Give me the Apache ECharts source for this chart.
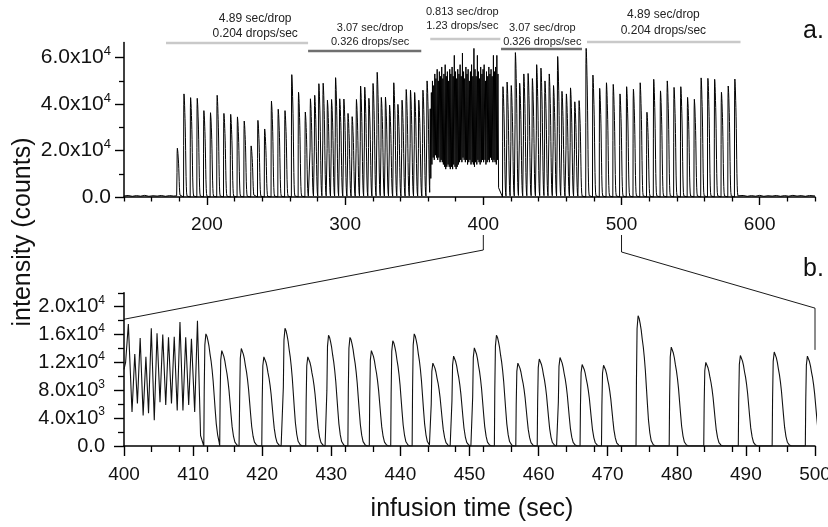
<!DOCTYPE html>
<html><head><meta charset="utf-8">
<script src="https://cdn.jsdelivr.net/npm/echarts@6/dist/echarts.min.js"></script>
<style>html,body{margin:0;padding:0;background:#fff}#c{width:828px;height:527px}</style>
</head><body><div id="c"></div>
<script>
// ---------------- data ----------------
// Panel a: isolated drops (4.89 and 3.07 sec/drop regimes): peak time (s), peak height (x1000 counts)
const topDropTimes = [178.6,183.4,188.2,193.0,197.8,202.6,207.4,212.3,217.2,222.1,227.0,232.0,236.9,241.8,246.7,251.6,256.5,261.4,266.3,271.2,
  274.9,278.0,281.0,284.1,287.2,290.2,293.1,296.1,299.1,302.1,305.1,308.2,311.2,314.2,317.2,320.2,323.2,326.2,329.2,332.2,335.2,338.2,341.2,344.2,347.3,350.3,353.3,356.3,359.3,
  414.2,417.2,420.2,423.2,426.3,429.3,432.4,435.5,438.6,441.7,444.6,447.7,450.8,453.8,456.9,460.1,463.1,466.2,469.3,
  474.4,479.3,484.2,489.1,494.0,498.9,503.7,508.6,513.5,518.4,523.3,528.2,533.1,538.0,542.9,547.8,552.7,557.6,562.5,567.4,572.3,577.2,582.0];
const topDropHeightsK = [21.0,44.4,42.8,42.5,37.2,36.3,43.8,36.0,35.6,34.5,32.7,22.0,33.0,29.3,41.3,37.8,37.2,52.7,45.1,36.6,
  42.3,43.8,48.8,49.0,41.7,42.0,51.4,42.3,42.2,36.0,34.6,42.0,47.8,47.3,42.5,48.9,53.7,42.9,43.0,39.6,49.2,39.9,41.7,46.3,46.0,45.0,41.7,46.0,50.0,
  47.5,49.5,48.0,62.2,49.0,53.0,53.2,51.0,57.0,55.5,50.0,53.0,48.0,60.5,45.5,44.4,47.0,41.0,41.5,
  64.0,52.5,46.8,49.2,48.5,44.4,47.5,46.4,49.2,36.5,50.7,45.7,50.0,47.2,47.5,42.9,42.1,51.3,51.1,50.7,45.1,47.8,50.8];
// Panel a: fast regime (0.813 sec/drop): peak time, peak height, trough before each peak (x1000)
const topBurstTimes = [361.6,362.4,363.2,364.1,364.9,365.7,366.6,367.4,368.2,369.1,369.9,370.7,371.5,372.4,373.2,374.0,374.9,375.7,376.5,377.4,
  378.2,379.0,379.9,380.7,381.5,382.4,383.2,384.0,384.9,385.7,386.5,387.4,388.2,389.0,389.9,390.7,391.5,392.4,393.2,394.0,
  394.8,395.7,396.5,397.3,398.1,399.0,399.8,400.6,401.6,402.3,403.2,404.0,404.8,405.6,406.4,407.3,408.1,408.9,409.8,410.6];
const topBurstHeightsK = [38,45,50,48,53,51,55,50,54,52,56,51,53,57,52,54,50,55,53,56,
  52,61,54,51,55,53,57,52,62,54,51,56,53,55,50,54,57,52,64,55,
  52,61,54,51,56,53,55,57,50,54,52,56,53,55,52,61,54,56,61,53];
const topBurstLowsK = [0,8,14,17,16,18,17,16,17,15,16,15,14,13,12,13,14,13,12,13,
  12,14,13,12,13,14,15,16,15,17,16,15,16,14,15,16,14,15,14,13,
  15,14,16,15,14,15,16,15,16,14,15,16,15,17,16,15,16,15,14,16];
const topBurstTailK = 4;
// Panel a: baseline before and after the infusion [time, counts]
const topBaseBefore = [[140,450],[143,650],[146,300],[149,600],[152,350],[155,700],[158,300],[161,550],[164,400],[167,650],[170,300],[173,600],[176,400],[178.1,500]];
const topBaseAfter = [[585,400],[588,650],[591,300],[594,600],[597,350],[600,700],[603,300],[606,550],[609,400],[612,650],[615,300],[618,600],[621,350],[624,700],[627,400],[630,600],[633,300],[636,650],[640,450]];

// Panel b: zoom 400-500 s
const botStart = [[400,11000]];
const botBurstTimes = [400.63,401.56,402.34,403.17,403.95,404.78,405.61,406.44,407.27,408.10,408.93,409.76,410.63];
const botBurstHeightsK = [17.5,13.2,15.5,12.8,16.9,16.2,16.0,15.6,15.7,17.8,15.6,15.4,18.0];
const botBurstLowsK = [12.0,4.9,6.1,4.4,4.7,3.7,6.3,5.9,6.1,5.1,5.1,5.9,4.9];
const botBurstTailK = 1.5;
const botDropTimes = [411.85,414.15,416.98,420.24,423.3,426.6,429.6,432.7,435.8,438.9,442.0,444.7,447.7,450.7,453.9,457.0,460.1,463.1,466.3,469.4,474.4,479.2,484.2,489.2,494.1,498.9];
const botDropHeightsK = [16.1,13.7,14.0,12.8,16.9,12.8,15.9,15.6,13.7,15.1,16.1,11.9,12.9,14.1,15.9,11.9,12.5,12.7,11.7,11.6,18.7,14.2,12.0,13.0,13.5,12.9];

// Shape of one drop signal: [seconds from peak top, fraction of peak height]
const dropShape = [[-0.3,0],[-0.24,0.5],[-0.15,0.9],[0,1],[0.15,0.98],[0.3,0.94],[0.45,0.89],[0.6,0.82],[0.75,0.76],[0.9,0.68],[1.05,0.58],[1.2,0.45],[1.35,0.32],[1.5,0.2],[1.7,0.1],[1.9,0.04],[2.2,0.01],[2.5,0]];
const burstHalf = 0.4;

// Axis ticks
const topXLabels = [200,300,400,500,600];
const topXMinor = [140,160,180,220,240,260,280,320,340,360,380,420,440,460,480,520,540,560,580,620,640];
const topYLabels = [0,20000,40000,60000];
const topYMinor = [10000,30000,50000];
const botXLabels = [400,410,420,430,440,450,460,470,480,490,500];
const botYLabels = [0,4000,8000,12000,16000,20000];
const botYMinor = [2000,6000,10000,14000,18000,22000];

// Annotations (rate regimes) in panel a time units
const regimeStart = [170.4,273.2,361.6,412.8,475.0];
const regimeEnd = [273.2,355.1,412.3,471.4,586.1];
const regimeTextAt = [234.9,318.1,384.8,442.7,530.3];
const regimeText = [['4.89 sec/drop','0.204 drops/sec'],['3.07 sec/drop','0.326 drops/sec'],['0.813 sec/drop','1.23 drops/sec'],['3.07 sec/drop','0.326 drops/sec'],['4.89 sec/drop','0.204 drops/sec']];

// ---------------- build traces ----------------
function buildTrace(before, dropT, dropH, burstT, burstH, burstL, tail, after) {
  const ev = [];
  dropT.forEach((t, i) => ev.push({t: t, h: dropH[i] * 1000}));
  burstT.forEach((t, i) => ev.push({t: t, h: burstH[i] * 1000, low: burstL[i] * 1000}));
  ev.sort((a, b) => a.t - b.t);
  const pts = [];
  const push = (t, v) => { if (!pts.length || t > pts[pts.length - 1][0] + 1e-6) pts.push([t, v]); };
  before.forEach(p => push(p[0], p[1]));
  ev.forEach((e, k) => {
    const nx = ev[k + 1];
    const nextStart = nx ? (nx.low !== undefined ? nx.t - burstHalf : nx.t + dropShape[0][0]) : Infinity;
    if (e.low !== undefined) {
      push(e.t - burstHalf, e.low);
      push(e.t, e.h);
      if (!nx || nx.low === undefined) push(Math.min(e.t + 0.45, nextStart - 0.05), tail * 1000);
    } else {
      dropShape.forEach(s => { if (e.t + s[0] < nextStart) push(e.t + s[0], e.h * s[1]); });
    }
  });
  after.forEach(p => push(p[0], p[1]));
  return pts;
}
const topData = buildTrace(topBaseBefore, topDropTimes, topDropHeightsK, topBurstTimes, topBurstHeightsK, topBurstLowsK, topBurstTailK, topBaseAfter);
const botData = buildTrace(botStart, botDropTimes, botDropHeightsK, botBurstTimes, botBurstHeightsK, botBurstLowsK, botBurstTailK, []);

// ---------------- chart ----------------
const FONT = '"Liberation Sans", Arial, Helvetica, sans-serif';
function sci(v) {
  if (v === 0) return '{m|0.0}';
  const e = Math.floor(Math.log10(v) + 1e-9);
  return '{m|' + (v / Math.pow(10, e)).toFixed(1) + 'x10}{s|' + e + '}';
}
function rich(big, small) {
  return {m: {fontSize: big, lineHeight: big + 4, fontFamily: FONT, color: '#111'},
          s: {fontSize: small, lineHeight: 11, verticalAlign: 'top', fontFamily: FONT, color: '#111'}};
}
const axLine = {show: true, lineStyle: {color: '#000', width: 1.5}};
const noLine = {show: false};
function mainX(grid, min, max, labels, majorLen, margin, extra) {
  return Object.assign({type: 'value', gridIndex: grid, position: 'bottom', min: min, max: max,
    axisLine: axLine, splitLine: {show: false},
    axisTick: {show: true, customValues: labels, length: majorLen, lineStyle: {color: '#000', width: 1.4}},
    axisLabel: {customValues: labels, fontSize: 19, fontFamily: FONT, color: '#111', margin: margin}}, extra || {});
}
function minorAxis(type, grid, min, max, vals, len) {
  return {type: 'value', gridIndex: grid, position: type === 'x' ? 'bottom' : 'left', min: min, max: max,
    axisLine: noLine, splitLine: {show: false}, axisLabel: {show: false},
    axisTick: {show: true, customValues: vals, length: len, lineStyle: {color: '#000', width: 1.3}}};
}
function mainY(grid, max, labels, len, big, small, margin) {
  return {type: 'value', gridIndex: grid, position: 'left', min: 0, max: max,
    axisLine: axLine, splitLine: {show: false},
    axisTick: {show: true, customValues: labels, length: len, lineStyle: {color: '#000', width: 1.4}},
    axisLabel: {customValues: labels, formatter: sci, rich: rich(big, small), margin: margin}};
}

const chart = echarts.init(document.getElementById('c'), null, {renderer: 'canvas'});
chart.setOption({
  animation: false,
  backgroundColor: '#fff',
  grid: [
    {left: 124, right: 13, top: 42.6, height: 154.4, outerBoundsMode: 'none', containLabel: false},
    {left: 124, right: 13, top: 292.8, height: 153.2, outerBoundsMode: 'none', containLabel: false}
  ],
  xAxis: [
    mainX(0, 140, 640, topXLabels, 8, 18),
    minorAxis('x', 0, 140, 640, topXMinor, 4.5),
    mainX(1, 400, 500, botXLabels, 10, 19, {minorTick: {show: true, splitNumber: 5, length: 6, lineStyle: {color: '#000', width: 1.3}}})
  ],
  yAxis: [
    mainY(0, 66500, topYLabels, 9, 21, 13, 13),
    minorAxis('y', 0, 0, 66500, topYMinor, 5),
    mainY(1, 22000, botYLabels, 10, 20, 12, 19),
    minorAxis('y', 1, 0, 22000, botYMinor, 6)
  ],
  series: [
    {type: 'line', xAxisIndex: 0, yAxisIndex: 0, data: topData, showSymbol: false, symbol: 'none', clip: true,
     lineStyle: {color: '#000', width: 1.0}, sampling: null},
    {type: 'line', xAxisIndex: 2, yAxisIndex: 2, data: botData, showSymbol: false, symbol: 'none', clip: true,
     lineStyle: {color: '#111', width: 1.1}}
  ]
});

// annotations and zoom connectors positioned through the axes
const gx = v => chart.convertToPixel({xAxisIndex: 0}, v);
const bx = v => chart.convertToPixel({xAxisIndex: 2}, v);
const by = v => chart.convertToPixel({yAxisIndex: 2}, v);
const barY = [43, 51, 39, 49, 42];
const barColor = ['#c9c9c9', '#6f6f6f', '#c9c9c9', '#6f6f6f', '#c9c9c9'];
const textY = [[19, 34], [28, 42], [11.5, 25.5], [28, 42], [15, 30.5]];
const textSize = [12, 11, 11, 11, 12];
const g = [];
regimeStart.forEach((s, i) => {
  g.push({type: 'line', shape: {x1: gx(s), y1: barY[i], x2: gx(regimeEnd[i]), y2: barY[i]},
          style: {stroke: barColor[i], lineWidth: 2.6}});
  regimeText[i].forEach((t, j) => g.push({type: 'text', x: gx(regimeTextAt[i]), y: textY[i][j],
    style: {text: t, fontSize: textSize[i], fontFamily: FONT, fill: '#222', align: 'center', verticalAlign: 'middle'}}));
});
const zoomFrom = [400, 500];
g.push({type: 'polyline', shape: {points: [[gx(zoomFrom[0]), 235], [gx(zoomFrom[0]), 250], [bx(zoomFrom[0]), by(18200)]]},
        style: {stroke: '#000', lineWidth: 0.9, fill: null}});
g.push({type: 'polyline', shape: {points: [[gx(zoomFrom[1]), 235], [gx(zoomFrom[1]), 252], [bx(zoomFrom[1]), by(19800)], [bx(zoomFrom[1]), by(13800)]]},
        style: {stroke: '#000', lineWidth: 0.9, fill: null}});
g.push({type: 'text', x: 23, y: 232, rotation: Math.PI / 2,
        style: {text: 'intensity (counts)', fontSize: 25, fontFamily: FONT, fill: '#111', align: 'center', verticalAlign: 'middle'}});
g.push({type: 'text', x: 472, y: 509,
        style: {text: 'infusion time (sec)', fontSize: 25, fontFamily: FONT, fill: '#111', align: 'center', verticalAlign: 'middle'}});
g.push({type: 'text', x: 803, y: 19, style: {text: 'a.', fontSize: 25, fontFamily: FONT, fill: '#111', align: 'left', verticalAlign: 'top'}});
g.push({type: 'text', x: 803, y: 257, style: {text: 'b.', fontSize: 25, fontFamily: FONT, fill: '#111', align: 'left', verticalAlign: 'top'}});
chart.setOption({graphic: g});
</script>
</body></html>
